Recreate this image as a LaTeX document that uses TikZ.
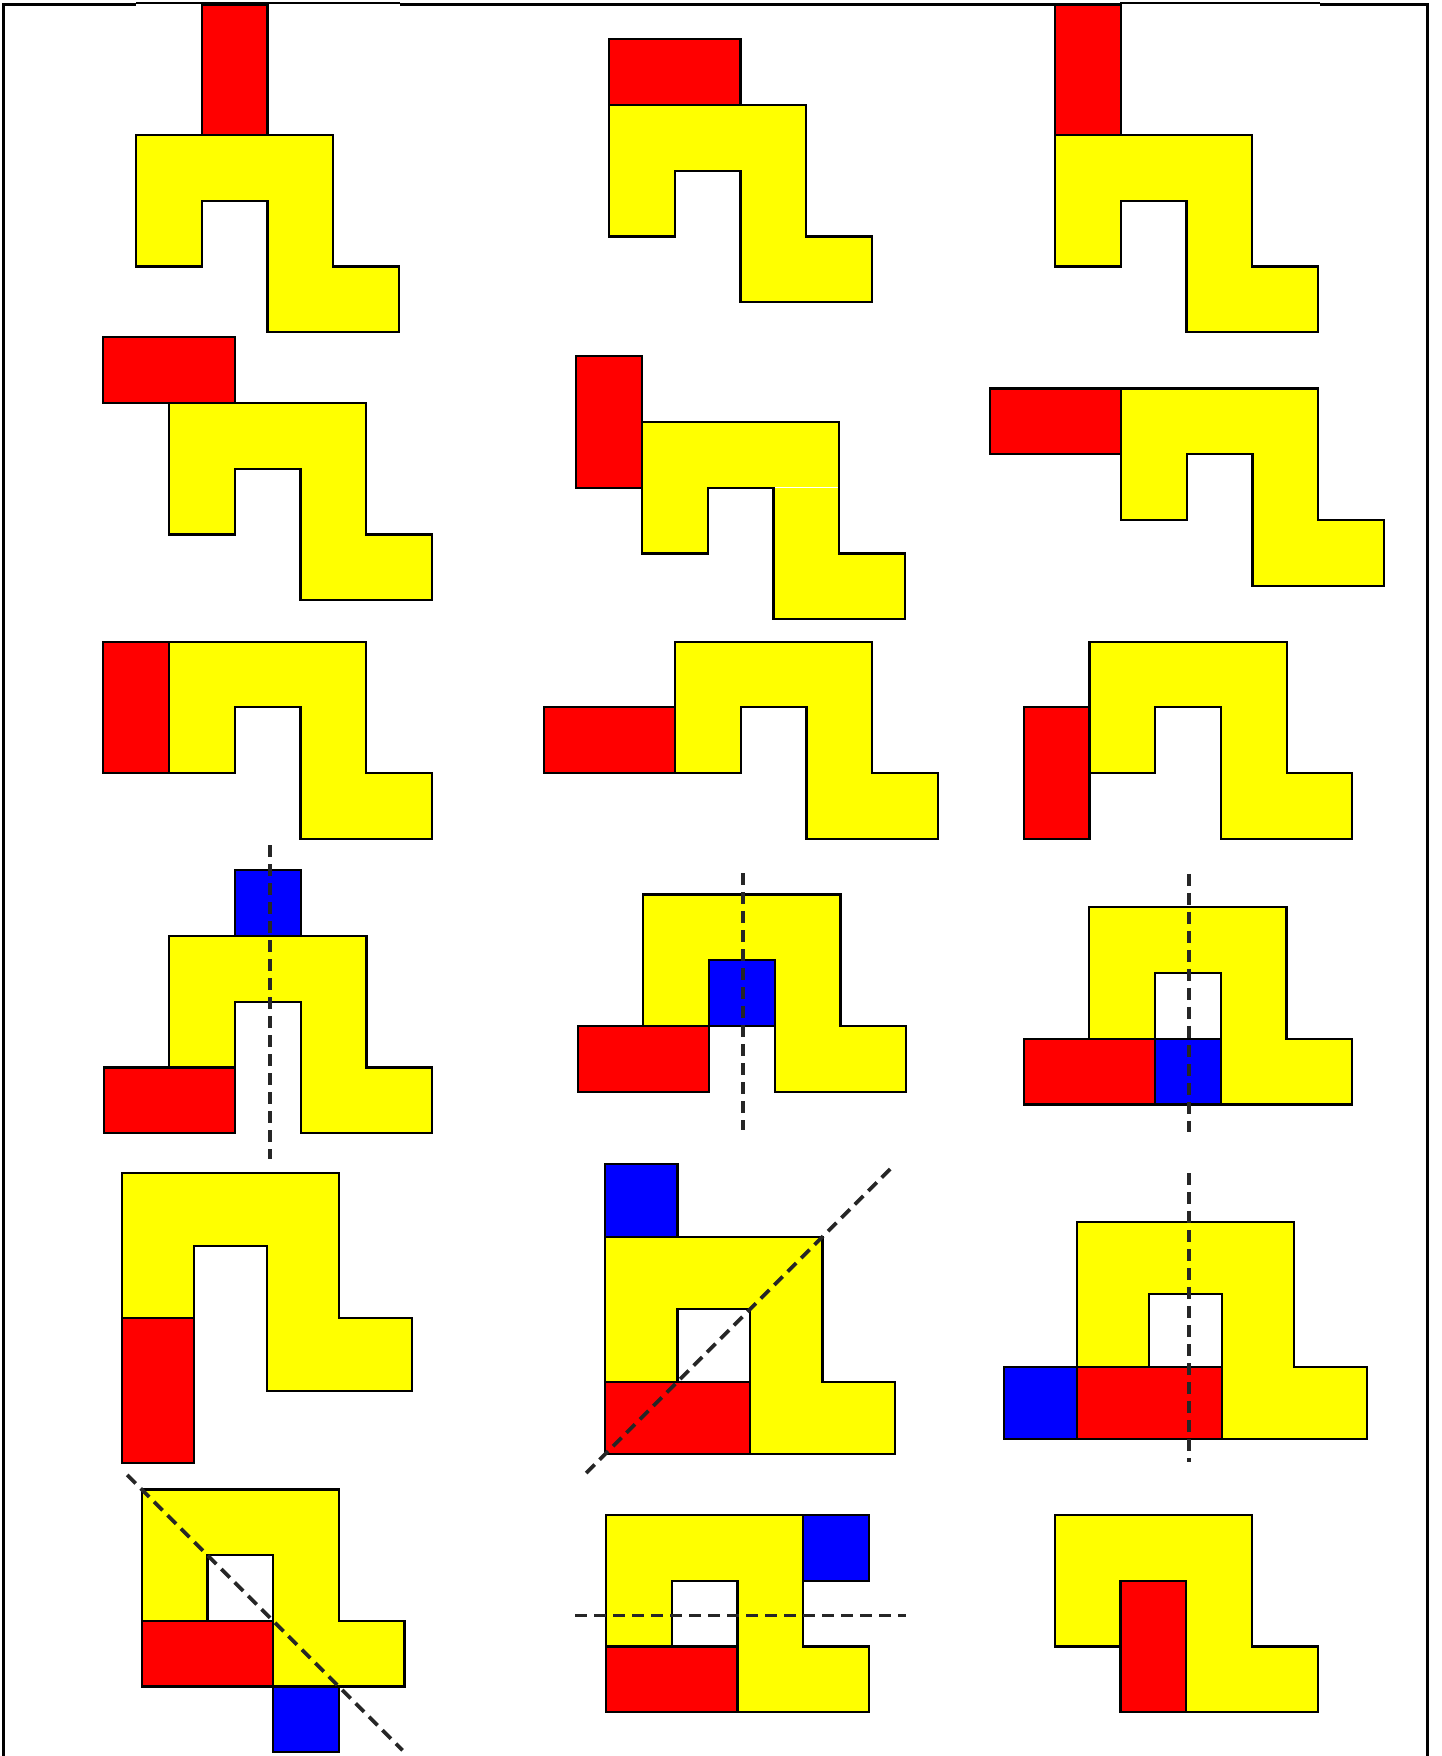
\documentclass[tikz,border=0pt]{standalone}
\definecolor{pyellow}{RGB}{255,255,0}
\definecolor{pred}{RGB}{255,0,0}
\definecolor{pblue}{RGB}{0,0,255}
\begin{document}
\begin{tikzpicture}[x=0.5pt,y=-0.5pt,
  yel/.style={fill=pyellow, draw=black, line width=1.1pt},
  redb/.style={fill=pred, draw=black, line width=1.1pt},
  blu/.style={fill=pblue, draw=black, line width=1.1pt},
  axisline/.style={draw=black!85, line width=1.9pt, dash pattern=on 6pt off 3.5pt},
  uA/.style={x=32.85pt,y=-32.85pt},
  uB/.style={x=36.25pt,y=-36.25pt},
  spiece/.pic={\draw[yel] (0,0)--(3,0)--(3,2)--(4,2)--(4,3)--(2,3)--(2,1)--(1,1)--(1,2)--(0,2)--cycle;}]
\useasboundingbox (0,0) rectangle (1441,1756);
\fill[white] (0,0) rectangle (1441,1756);
% frame
\draw[line width=1.5pt] (3,1756)--(3,4)--(136,4);
\draw[line width=0.8pt] (136,3)--(400,3);
\draw[line width=1.5pt] (400,4)--(1120,4);
\draw[line width=0.8pt] (1120,3)--(1320,3);
\draw[line width=1.5pt] (1320,4)--(1427,4)--(1427,1756);
% row 1
\begin{scope}[shift={(136,135)},uA]
  \pic {spiece}; \draw[redb] (1,-1.98) rectangle (2,0);
\end{scope}
\begin{scope}[shift={(609,105)},uA]
  \pic {spiece}; \draw[redb] (0,-1) rectangle (2,0);
\end{scope}
\begin{scope}[shift={(1055,135)},uA]
  \pic {spiece}; \draw[redb] (0,-1.98) rectangle (1,0);
\end{scope}
% row 2
\begin{scope}[shift={(169,403)},uA]
  \pic {spiece}; \draw[redb] (-1,-1) rectangle (1,0);
\end{scope}
\begin{scope}[shift={(642,422)},uA]
  \pic {spiece}; \draw[redb] (-1,-1) rectangle (0,1);
  \draw[white, line width=0.6pt] (2.02,1) -- (2.98,1);
\end{scope}
\begin{scope}[shift={(1121,388.5)},uA]
  \pic {spiece}; \draw[redb] (-2,0) rectangle (0,1);
\end{scope}
% row 3
\begin{scope}[shift={(169,641.6)},uA]
  \pic {spiece}; \draw[redb] (-1,0) rectangle (0,2);
\end{scope}
\begin{scope}[shift={(675,641.6)},uA]
  \pic {spiece}; \draw[redb] (-2,1) rectangle (0,2);
\end{scope}
\begin{scope}[shift={(1089.5,641.6)},uA]
  \pic {spiece}; \draw[redb] (-1,1) rectangle (0,3);
\end{scope}
% row 4
\begin{scope}[shift={(169.3,936)},uA]
  \pic {spiece}; \draw[blu] (1,-1) rectangle (2,0); \draw[redb] (-1,2) rectangle (1,3);
  \draw[axisline] (1.53,-1.38) -- (1.53,3.39);
\end{scope}
\begin{scope}[shift={(643.3,894.5)},uA]
  \pic {spiece}; \draw[blu] (1,1) rectangle (2,2); \draw[redb] (-1,2) rectangle (1,3);
  \draw[axisline] (1.52,-0.32) -- (1.52,3.59);
\end{scope}
\begin{scope}[shift={(1089.3,907.3)},uA]
  \pic {spiece}; \draw[redb] (-1,2) rectangle (1,3); \draw[blu] (1,2) rectangle (2,3);
  \draw[axisline] (1.52,-0.51) -- (1.52,3.42);
\end{scope}
% row 5
\begin{scope}[shift={(121.7,1173.3)},uB]
  \pic {spiece}; \draw[redb] (0,2) rectangle (1,4);
\end{scope}
\begin{scope}[shift={(605,1236.7)},uB]
  \pic {spiece}; \draw[blu] (0,-1) rectangle (1,0); \draw[redb] (0,2) rectangle (2,3);
  \draw[axisline] (-0.26,3.26) -- (3.94,-0.94);
\end{scope}
\begin{scope}[shift={(1076.7,1221.7)},uB]
  \pic {spiece}; \draw[blu] (-1,2) rectangle (0,3); \draw[redb] (0,2) rectangle (2,3);
  \draw[axisline] (1.55,-0.67) -- (1.55,3.31);
\end{scope}
% row 6
\begin{scope}[shift={(141.7,1489.4)},uA]
  \pic {spiece}; \draw[redb] (0,2) rectangle (2,3); \draw[blu] (2,3) rectangle (3,4);
  \draw[axisline] (-0.22,-0.22) -- (3.97,3.97);
\end{scope}
\begin{scope}[shift={(606,1515)},uA]
  \pic {spiece}; \draw[blu] (3,0) rectangle (4,1); \draw[redb] (0,2) rectangle (2,3);
  \draw[axisline] (-0.47,1.53) -- (4.57,1.53);
\end{scope}
\begin{scope}[shift={(1054.8,1515)},uA]
  \pic {spiece}; \draw[redb] (1,1) rectangle (2,3);
\end{scope}
\end{tikzpicture}
\end{document}
